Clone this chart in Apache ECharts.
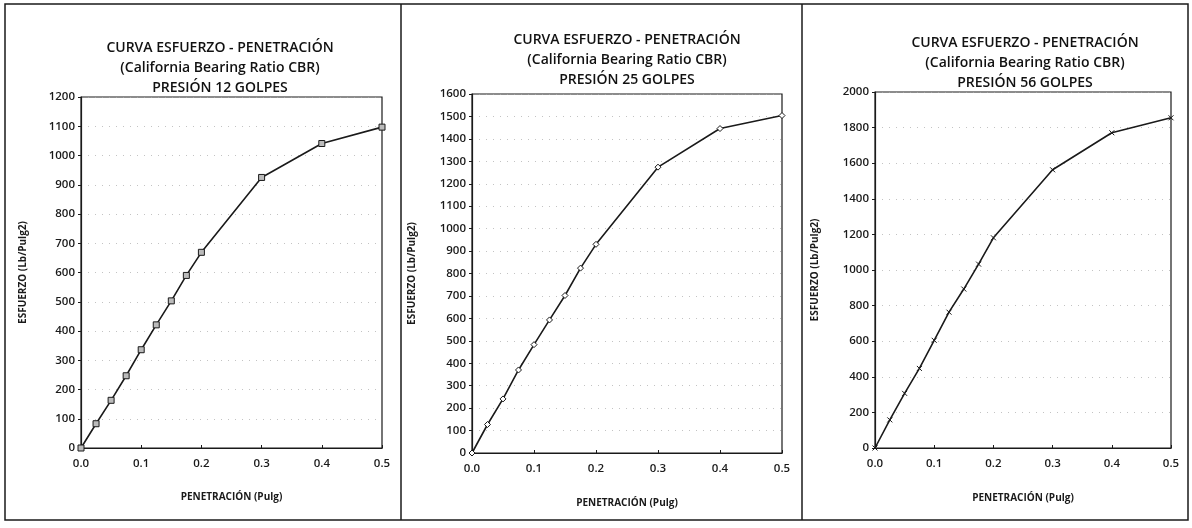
<!DOCTYPE html>
<html>
<head>
<meta charset="utf-8">
<script src="https://cdn.jsdelivr.net/npm/echarts@6/dist/echarts.min.js"></script>
<style>
  html, body { margin: 0; padding: 0; background: #fff; }
  #chart { width: 1192px; height: 528px; }
</style>
</head>
<body>
<div id="chart"></div>
<script>
// Datos
const penetracion = [0, 0.025, 0.05, 0.075, 0.1, 0.125, 0.15, 0.175, 0.2, 0.3, 0.4, 0.5]
const esfuerzo12 = [0, 83, 163, 247, 336, 421, 503, 590, 669, 925, 1041, 1097]
const esfuerzo25 = [0, 127, 241, 370, 483, 593, 702, 824, 930, 1274, 1446, 1504]
const esfuerzo56 = [0, 158, 307, 447, 605, 763, 893, 1033, 1181, 1563, 1771, 1855]
const golpes = ['12', '25', '56']
const yMax = [1200, 1600, 2000]
const yInterval = [100, 100, 200]

const series = [esfuerzo12, esfuerzo25, esfuerzo56]

// posiciones de cada panel
const grids = [
  { left: 81, top: 97, width: 301, height: 351 },
  { left: 472, top: 94, width: 310, height: 359 },
  { left: 875, top: 92, width: 296, height: 356 }
]
const titleX = [215, 622, 1020]
const titleY = [33, 25, 28]
const yNameGap = [53, 55, 55]
const symbols = ['rect', 'diamond', 'path://M0,0L10,10M10,0L0,10']

const font = '"Open Sans", "Liberation Sans", sans-serif'
const ink = '#1a1a1a'

const myChart = echarts.init(document.getElementById('chart'))

const option = {
  backgroundColor: '#fff',
  animation: false,
  title: golpes.map((g, i) => ({
    text: 'CURVA ESFUERZO - PENETRACIÓN\n(California Bearing Ratio CBR)\nPRESIÓN ' + g + ' GOLPES',
    left: titleX[i],
    top: titleY[i],
    textAlign: 'center',
    textStyle: {
      fontFamily: font,
      fontSize: 14,
      fontWeight: 600,
      color: '#111',
      lineHeight: 20,
      align: 'center'
    }
  })),
  grid: grids.map(g => ({
    ...g,
    show: true,
    borderColor: ink,
    borderWidth: 1.2,
    backgroundColor: 'transparent'
  })),
  xAxis: grids.map((g, i) => ({
    gridIndex: i,
    type: 'value',
    min: 0,
    max: 0.5,
    interval: 0.1,
    name: 'PENETRACIÓN (Pulg)',
    nameLocation: 'middle',
    nameGap: i === 0 ? 44 : 45,
    nameTextStyle: { fontFamily: font, fontSize: 10, fontWeight: 'bold', color: ink },
    axisLine: { lineStyle: { color: ink, width: 1.2 } },
    axisTick: { show: true, inside: true, length: 3, lineStyle: { color: ink } },
    axisLabel: {
      fontFamily: font, fontSize: 11.5, fontWeight: 600, color: ink, margin: 10,
      formatter: v => v.toFixed(1)
    },
    splitLine: { show: false }
  })),
  yAxis: grids.map((g, i) => ({
    gridIndex: i,
    type: 'value',
    min: 0,
    max: yMax[i],
    interval: yInterval[i],
    name: 'ESFUERZO (Lb/Pulg2)',
    nameLocation: 'middle',
    nameGap: yNameGap[i],
    nameTextStyle: { fontFamily: font, fontSize: 10, fontWeight: 'bold', color: ink },
    axisLine: { show: true, lineStyle: { color: ink, width: 1.2 } },
    axisTick: { show: true, inside: false, length: 3, lineStyle: { color: ink } },
    axisLabel: {
      fontFamily: font, fontSize: 11.5, fontWeight: 600, color: ink, margin: 6,
      formatter: v => String(v)
    },
    splitLine: {
      show: true,
      lineStyle: { color: '#aaa', width: 1, type: [1, 6], opacity: 0.7 }
    }
  })),
  series: series.map((data, i) => ({
    type: 'line',
    xAxisIndex: i,
    yAxisIndex: i,
    data: penetracion.map((p, k) => [p, data[k]]),
    symbol: symbols[i],
    symbolSize: i === 2 ? 5 : 6,
    showAllSymbol: true,
    lineStyle: { color: ink, width: 1.6 },
    itemStyle: {
      color: i === 0 ? '#bbb' : (i === 1 ? '#fff' : 'none'),
      borderColor: ink,
      borderWidth: 1
    }
  })),
  graphic: [
    { type: 'rect', shape: { x: 5, y: 4, width: 1183, height: 516 }, style: { fill: 'none', stroke: ink, lineWidth: 1.5 } },
    { type: 'line', shape: { x1: 401, y1: 4, x2: 401, y2: 520 }, style: { stroke: ink, lineWidth: 1.5 } },
    { type: 'line', shape: { x1: 802, y1: 4, x2: 802, y2: 520 }, style: { stroke: ink, lineWidth: 1.5 } }
  ]
}

myChart.setOption(option)

window.addEventListener('resize', () => myChart.resize())
</script>
</body>
</html>
